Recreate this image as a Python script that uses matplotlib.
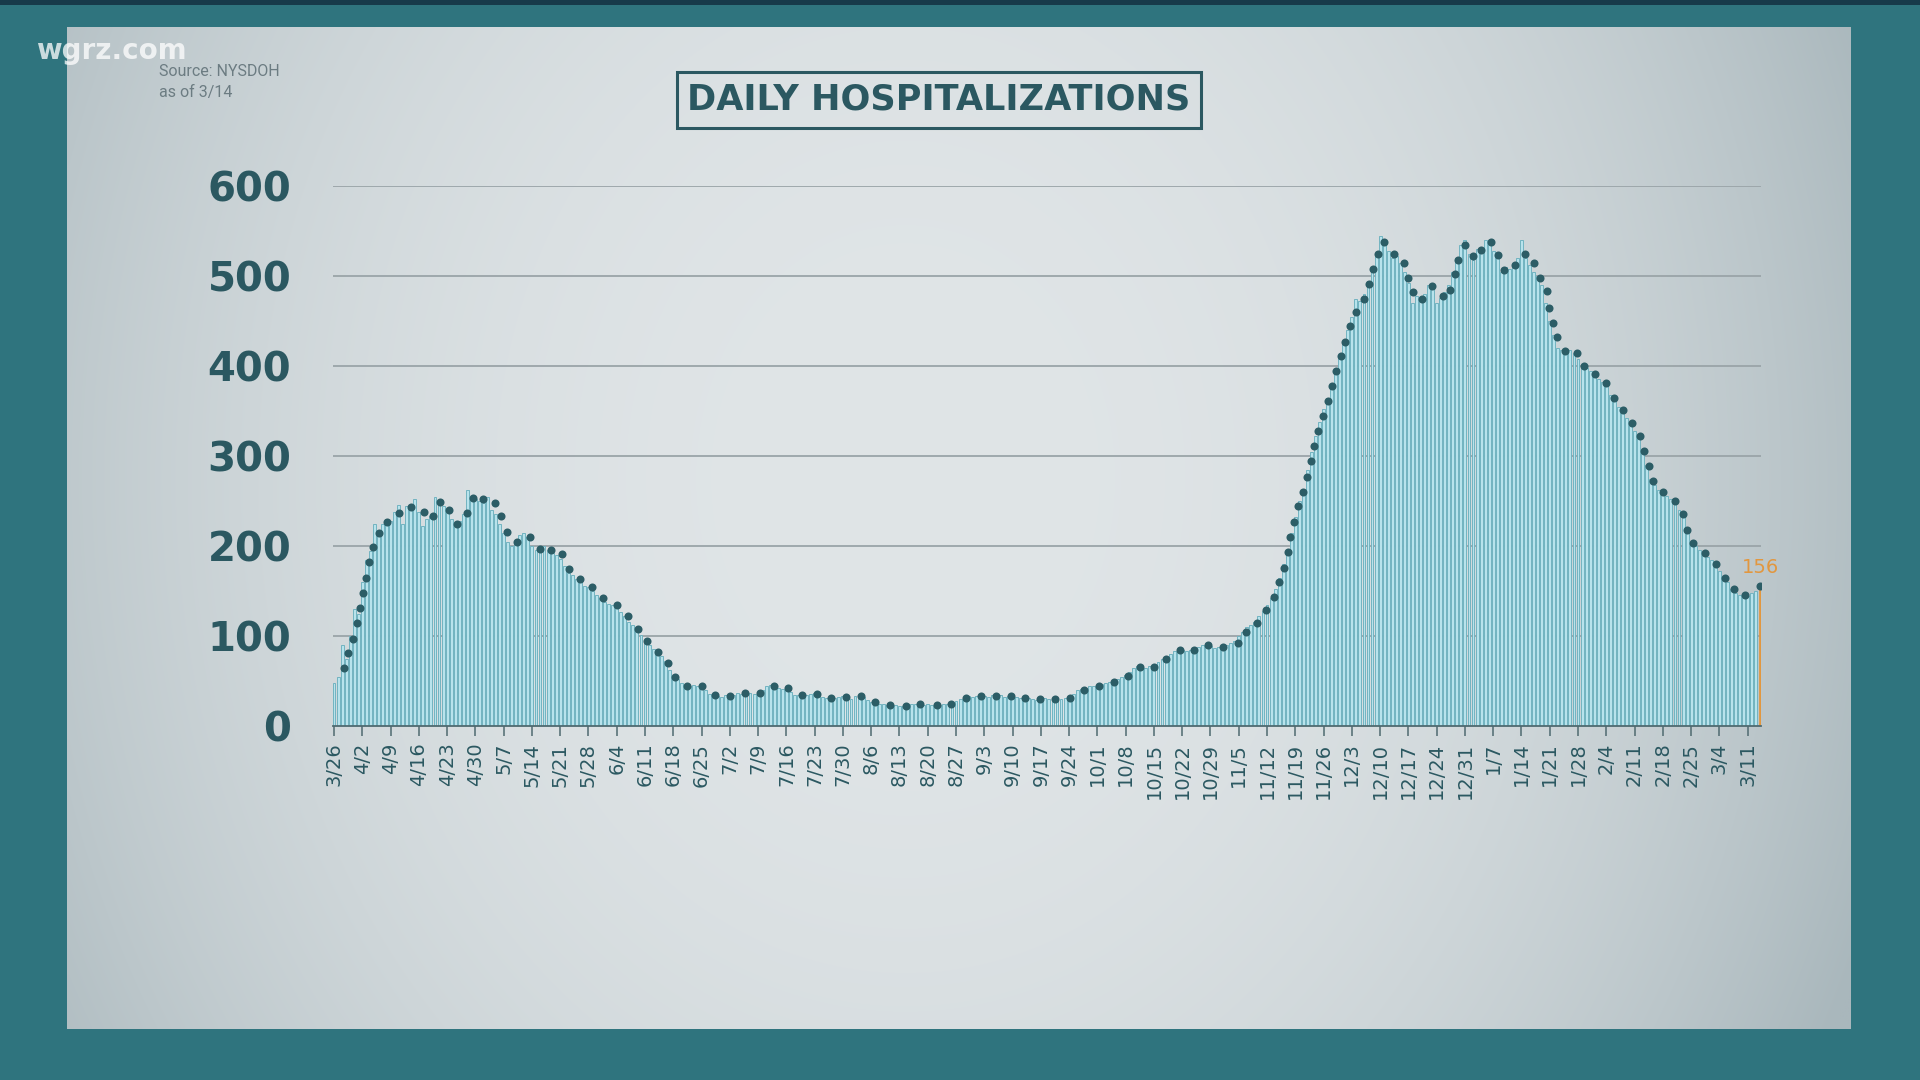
import numpy as np
import matplotlib
matplotlib.use("Agg")
import matplotlib.pyplot as plt

# ---------------- data ----------------
tick_labels = ['3/26', '4/2', '4/9', '4/16', '4/23', '4/30', '5/7', '5/14', '5/21', '5/28',
               '6/4', '6/11', '6/18', '6/25', '7/2', '7/9', '7/16', '7/23', '7/30', '8/6',
               '8/13', '8/20', '8/27', '9/3', '9/10', '9/17', '9/24', '10/1', '10/8', '10/15',
               '10/22', '10/29', '11/5', '11/12', '11/19', '11/26', '12/3', '12/10', '12/17',
               '12/24', '12/31', '1/7', '1/14', '1/21', '1/28', '2/4', '2/11', '2/18', '2/25',
               '3/4', '3/11']

# daily hospitalizations, one value per day starting 3/26
daily = [
    48, 55, 90, 75, 100, 130, 125, 160, 185, 195,
    225, 215, 225, 230, 228, 238, 246, 225, 244, 243,
    252, 238, 222, 230, 233, 255, 250, 245, 238, 230,
    225, 228, 236, 262, 255, 252, 250, 248, 254, 240,
    236, 225, 214, 205, 200, 206, 212, 214, 210, 200,
    196, 198, 200, 196, 192, 190, 186, 178, 170, 168,
    163, 160, 156, 154, 150, 146, 142, 138, 136, 134,
    132, 127, 122, 116, 112, 106, 101, 96, 90, 86,
    82, 78, 72, 62, 56, 52, 48, 45, 44, 46,
    44, 43, 40, 36, 34, 33, 32, 34, 33, 35,
    37, 36, 38, 37, 36, 38, 40, 44, 46, 43,
    42, 41, 43, 38, 35, 34, 33, 35, 36, 37,
    34, 32, 31, 30, 31, 32, 33, 32, 30, 33,
    34, 32, 29, 27, 26, 25, 24, 23, 22, 23,
    22, 22, 23, 24, 25, 24, 23, 24, 23, 22,
    23, 24, 25, 26, 28, 30, 32, 33, 32, 33,
    34, 33, 32, 34, 33, 34, 32, 33, 34, 32,
    31, 30, 31, 30, 29, 30, 31, 30, 29, 31,
    30, 31, 33, 36, 40, 41, 42, 44, 45, 46,
    47, 48, 49, 50, 52, 54, 57, 60, 64, 67,
    66, 65, 67, 68, 71, 74, 77, 80, 83, 85,
    84, 83, 85, 86, 88, 90, 92, 89, 87, 88,
    88, 90, 92, 95, 100, 104, 110, 112, 116, 122,
    128, 134, 142, 152, 165, 180, 196, 215, 232, 250,
    262, 285, 305, 322, 338, 352, 365, 380, 392, 410,
    425, 440, 455, 475, 472, 480, 495, 510, 525, 545,
    540, 528, 520, 522, 515, 505, 492, 470, 478, 472,
    480, 490, 488, 470, 476, 482, 490, 505, 520, 535,
    540, 525, 518, 530, 526, 540, 536, 528, 520, 505,
    510, 508, 514, 520, 540, 520, 512, 505, 500, 490,
    470, 450, 435, 420, 418, 415, 418, 414, 408, 402,
    398, 394, 390, 386, 382, 378, 368, 362, 355, 350,
    342, 336, 328, 320, 305, 290, 275, 268, 262, 258,
    256, 252, 248, 240, 232, 220, 205, 200, 196, 192,
    188, 184, 178, 172, 166, 160, 152, 148, 146, 142,
    145, 148, 150, 156,
]

# smoothed trend, read as (day offset from 3/26, value) points of the dotted line
trend_day = [2.5, 3.5, 4.6, 5.6, 6.5, 7.3, 7.9, 8.7, 9.7, 11.1, 13.1, 16.0, 19.0, 22.4,
             24.6, 26.2, 28.5, 30.5, 32.9, 34.5, 37.0, 39.9, 41.4, 42.9, 45.3, 48.6, 50.9,
             53.6, 56.5, 58.2, 60.9, 63.9, 66.6, 70.0, 72.8, 75.2, 77.4, 80.1, 82.8, 84.5,
             87.5, 91.2, 94.3, 98.1, 101.8, 105.5, 108.9, 112.5, 115.8, 119.6, 123.1, 126.8,
             130.4, 134.0, 137.7, 141.5, 145.2, 149.2, 152.8, 156.4, 160.1, 163.9, 167.6,
             171.2, 174.9, 178.6, 182.3, 185.6, 189.4, 193.1, 196.5, 199.6, 203.0, 205.9,
             209.4, 213.0, 216.4, 220.1, 223.7, 225.9, 228.4, 230.8, 232.7, 234.0, 235.1,
             236.1, 236.8, 237.8, 238.7, 240.0, 240.9, 241.8, 242.7, 243.7, 244.8, 246.1,
             247.1, 248.2, 249.2, 250.3, 251.6, 253.0, 255.0, 256.3, 257.3, 258.5, 260.0,
             262.4, 264.9, 266.0, 267.2, 269.4, 271.9, 274.5, 276.4, 277.5, 278.4, 280.0,
             282.1, 284.1, 286.4, 288.2, 289.7, 292.4, 294.8, 297.0, 298.7, 300.2, 300.8,
             301.8, 302.8, 304.7, 307.8, 309.6, 312.3, 315.0, 316.8, 319.2, 321.3, 323.3,
             324.3, 325.5, 326.6, 329.1, 332.0, 334.0, 335.0, 336.5, 339.4, 342.1, 344.3,
             346.5, 349.3, 353.0]
trend_val = [64, 81, 97, 114, 131, 148, 165, 182, 199, 215, 227, 237, 243, 238,
             233, 249, 240, 225, 237, 253, 252, 248, 233, 216, 204, 210, 197,
             196, 191, 175, 163, 154, 142, 134, 122, 108, 95, 82, 70, 55,
             44, 44, 34, 33, 37, 37, 44, 42, 34, 36, 31, 32,
             33, 27, 23, 22, 24, 23, 24, 31, 33, 33, 33,
             31, 30, 30, 31, 40, 45, 49, 56, 66, 66, 75,
             84, 84, 90, 88, 92, 105, 115, 129, 143, 160, 176,
             193, 210, 227, 244, 260, 277, 294, 311, 328, 344, 361,
             378, 394, 411, 427, 444, 460, 474, 491, 508, 524, 538,
             525, 515, 498, 482, 475, 489, 478, 484, 502, 518, 534,
             522, 529, 538, 523, 507, 512, 525, 514, 498, 483, 465,
             448, 432, 417, 415, 400, 391, 381, 365, 351, 337, 322,
             306, 289, 272, 260, 250, 236, 218, 203, 192, 180, 165,
             152, 146, 156]

latest_label = '156'
y_ticks = [0, 100, 200, 300, 400, 500, 600]

# ---------------- style ----------------
W, H = 1920, 1080
TEAL_BG = '#2f747e'
INK = '#2b5861'
BAR_FACE = '#b8e3ec'
BAR_EDGE = '#72b3c0'
DOT = '#2c5d66'
ORANGE = '#e2973f'

fig = plt.figure(figsize=(W / 100, H / 100), dpi=100)
fig.patch.set_facecolor(TEAL_BG)

def fx(px):
    return px / W

def fy(py):
    return 1 - py / H

# thin dark strip along the very top
top = fig.add_axes([0, fy(5), 1, 5 / H])
top.set_facecolor('#173a4a')
top.set_xticks([]); top.set_yticks([])
for s in top.spines.values():
    s.set_visible(False)

# light panel with soft shading
px0, px1, py0, py1 = 67, 1851, 27, 1029
bg = fig.add_axes([fx(px0), fy(py1), (px1 - px0) / W, (py1 - py0) / H])
gx, gy = np.meshgrid(np.linspace(0, 1, 400), np.linspace(0, 1, 220))
r2 = ((gx - 0.47) / 0.58) ** 2 + ((gy - 0.45) / 1.25) ** 2
t = np.clip(r2, 0, 1) ** 1.2
center = np.array([0xe0, 0xe5, 0xe7]) / 255
edge = np.array([0xa9, 0xb7, 0xbc]) / 255
img = center[None, None, :] * (1 - t[..., None]) + edge[None, None, :] * t[..., None]
bg.imshow(img, aspect='auto', extent=[0, 1, 1, 0], interpolation='bilinear')
bg.set_xlim(0, 1); bg.set_ylim(1, 0)
bg.set_xticks([]); bg.set_yticks([])
for s in bg.spines.values():
    s.set_visible(False)

# ---------------- chart ----------------
ax_l, ax_r, ax_b, ax_t = 333, 1761, 726, 186
ax = fig.add_axes([fx(ax_l), fy(ax_b), (ax_r - ax_l) / W, (ax_b - ax_t) / H])
ax.set_facecolor('none')

days = np.arange(len(daily))
ax.set_xlim(-0.25, len(daily) - 0.7)
ax.set_ylim(0, 600)

for v in y_ticks[1:]:
    ax.axhline(v, color='#9aa4a8', lw=1.3, zorder=1)

ax.bar(days[:-1], daily[:-1], width=0.72, color=BAR_FACE, edgecolor=BAR_EDGE,
       linewidth=0.7, zorder=2)
ax.bar(days[-1:], daily[-1:], width=0.55, color=ORANGE, edgecolor=ORANGE,
       linewidth=0.5, zorder=3)

ax.plot(trend_day, trend_val, 'o', color=DOT, ms=5.8, mew=0, zorder=4)

ax.text(days[-1] + 0.3, daily[-1] + 10, latest_label, color=ORANGE, fontsize=14,
        ha='center', va='bottom', family='DejaVu Sans', zorder=5)

for s in ['top', 'right', 'left']:
    ax.spines[s].set_visible(False)
ax.spines['bottom'].set_color('#4f6a70')
ax.spines['bottom'].set_linewidth(1.3)
ax.spines['bottom'].set_zorder(6)

ax.set_yticks(y_ticks)
ax.set_yticklabels([str(v) for v in y_ticks])
ax.tick_params(axis='y', length=0, pad=30, labelsize=29, labelcolor=INK)
for lab in ax.get_yticklabels():
    lab.set_fontweight('bold')
    lab.set_family('DejaVu Sans')

ax.set_xticks(np.arange(0, 7 * len(tick_labels), 7))
ax.set_xticklabels(tick_labels, rotation=90)
ax.tick_params(axis='x', length=7, width=1.1, color='#4f6a70', pad=5,
               labelsize=14, labelcolor=INK)

# ---------------- titles / annotations ----------------
fig.text(fx(939), fy(100), 'DAILY HOSPITALIZATIONS', ha='center', va='center',
         fontsize=25.3, color=INK, family='DejaVu Sans', fontweight='bold',
         bbox=dict(boxstyle='square,pad=0.3', fc='none', ec=INK, lw=2.2))

fig.text(fx(159), fy(71), 'Source: NYSDOH', ha='left', va='center', fontsize=11.5,
         color='#6c7c82', family='Roboto')
fig.text(fx(159), fy(93), 'as of 3/14', ha='left', va='center', fontsize=11.5,
         color='#6c7c82', family='Roboto')

fig.text(fx(36), fy(51), 'wgrz.com', ha='left', va='center', fontsize=20,
         color='white', alpha=0.75, family='DejaVu Sans', fontweight='bold')

fig.savefig('out.png', dpi=100, facecolor=fig.get_facecolor())
